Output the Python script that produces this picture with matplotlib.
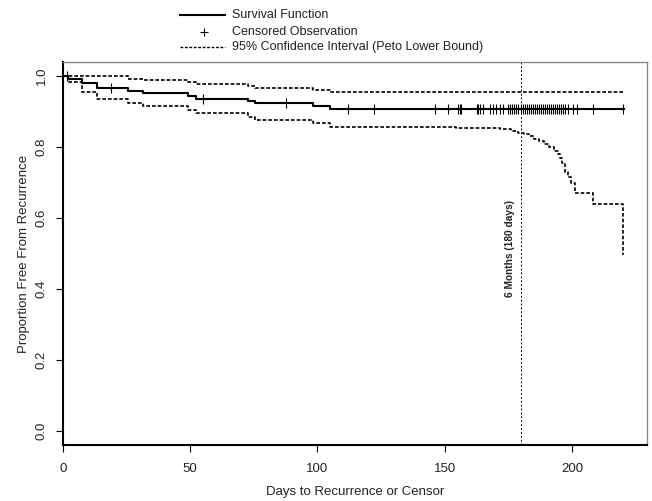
import numpy as np
import matplotlib
matplotlib.use("Agg")
import matplotlib.pyplot as plt
from matplotlib.lines import Line2D

plt.rcParams['font.family'] = ['Liberation Sans', 'DejaVu Sans']

# ---- data ----
event_times = [0, 2, 7.6, 13.5, 25.6, 31.6, 49.3, 52.2, 72.6, 75.4, 98.2, 105.1, 220.5]
surv_vals   = [1.0, 0.9915, 0.981, 0.966, 0.958, 0.952, 0.945, 0.935, 0.930, 0.923, 0.916, 0.907, 0.907]
upper_vals  = [1.0, 1.0, 1.0, 1.0, 0.993, 0.988, 0.983, 0.977, 0.972, 0.968, 0.962, 0.955, 0.955]

lower_times = [0, 2, 7.6, 13.5, 25.6, 31.6, 49.3, 52.2, 72.6, 75.4, 98.2, 105.1,
               154.6, 171.7, 176, 179, 181, 183, 185, 187, 189, 191, 193, 194.5,
               195.5, 196.2, 197.2, 198.5, 199.5, 201.2, 208.4, 220.2]
lower_vals  = [1.0, 0.983, 0.956, 0.935, 0.925, 0.915, 0.904, 0.895, 0.884, 0.876, 0.867, 0.857,
               0.853, 0.850, 0.846, 0.841, 0.836, 0.830, 0.823, 0.816, 0.808, 0.800, 0.790, 0.780,
               0.770, 0.755, 0.730, 0.715, 0.699, 0.670, 0.639, 0.496]

censor_times = [1.5, 18.8, 54.9, 87.7, 111.9, 122.2, 146.1, 151.3, 155.2, 155.9, 156.6,
                162.5, 163.1, 163.8, 165.1, 167.7, 169.0, 170.3, 171.7, 173.0, 175.0,
                175.8, 176.6, 177.4, 178.2, 179.0, 179.8, 180.6, 181.4, 182.2, 183.0,
                183.8, 184.6, 185.4, 186.2, 187.0, 187.8, 188.6, 189.4, 190.2, 191.0,
                191.8, 192.6, 193.4, 194.2, 195.0, 195.8, 196.6, 197.4, 198.5, 200.5,
                201.8, 208.4, 220.2]

xticks = [0, 50, 100, 150, 200]
yticks = [0.0, 0.2, 0.4, 0.6, 0.8, 1.0]
six_months = 180

# ---- figure ----
fig = plt.figure(figsize=(6.52, 5.01), dpi=100)
ax = fig.add_axes([63/652, 1-445/501, (647-63)/652, (445-62)/501])

dash = (0, (2.2, 1.2))
ax.step(event_times, surv_vals, where='post', color='black', lw=1.5)
ax.step(event_times, upper_vals, where='post', color='black', lw=1.2, linestyle=dash)
ax.step(lower_times, lower_vals, where='post', color='black', lw=1.2, linestyle=dash)

idx = np.searchsorted(event_times, censor_times, side='right') - 1
cvals = np.array(surv_vals)[idx]
ax.plot(censor_times, cvals, linestyle='none', marker='|', color='black',
        markersize=7, markeredgewidth=0.8)

ax.axvline(six_months, color='black', lw=0.7, linestyle=(0, (2, 2)))
ax.text(six_months - 4.5, 0.515, '6 Months (180 days)', rotation=90,
        ha='center', va='center', fontsize=7.3, fontweight='bold', color='#222222')

ax.set_xlim(0, 229.5)
ax.set_ylim(-0.04, 1.04)
ax.set_xticks(xticks)
ax.set_xticklabels([str(t) for t in xticks], fontsize=9.5, color='#222222')
ax.set_yticks(yticks)
ax.set_yticklabels([f'{t:.1f}' for t in yticks], fontsize=9.5, rotation=90,
                   va='center', color='#222222')
ax.tick_params(axis='x', direction='out', length=5, width=0.8, pad=8)
ax.tick_params(axis='y', direction='out', length=5, width=0.8, pad=6)
for s in ax.spines.values():
    s.set_linewidth(1.0)
ax.spines['left'].set_linewidth(1.5)
ax.spines['bottom'].set_linewidth(1.5)
ax.spines['top'].set_color('#888888')
ax.spines['right'].set_color('#888888')

ax.set_xlabel('Days to Recurrence or Censor', fontsize=9.5, color='#222222', labelpad=8)
ax.set_ylabel('Proportion Free From Recurrence', fontsize=9.5, color='#222222', labelpad=4)

# ---- legend (above the plot) ----
def fx(px): return px / 652
def fy(py): return 1 - py / 501
fig.add_artist(Line2D([fx(180), fx(225)], [fy(15), fy(15)], color='black', lw=1.5))
fig.add_artist(Line2D([fx(204)], [fy(32)], marker='+', color='black', markersize=6,
                      markeredgewidth=0.8, linestyle='none'))
fig.add_artist(Line2D([fx(180), fx(225)], [fy(47), fy(47)], color='black', lw=1.0,
                      linestyle=(0, (2, 1.2))))
legend_labels = ['Survival Function', 'Censored Observation',
                 '95% Confidence Interval (Peto Lower Bound)']
for py, lab in zip([15, 32, 47], legend_labels):
    fig.text(fx(232), fy(py), lab, fontsize=9, va='center', ha='left', color='#222222')

fig.savefig('out.png', dpi=100)
